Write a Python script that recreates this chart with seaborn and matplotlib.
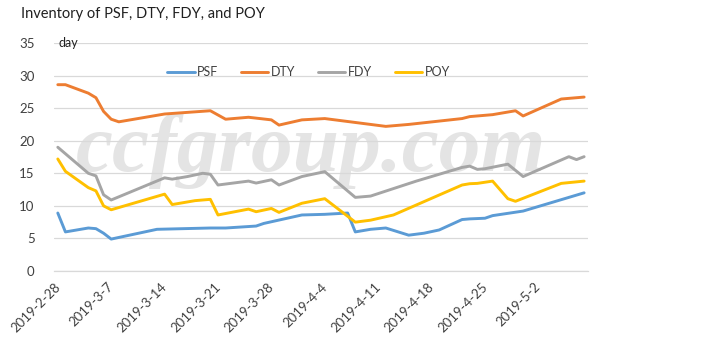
import pandas as pd
import numpy as np
import matplotlib
matplotlib.use("Agg")
import matplotlib.pyplot as plt
import seaborn as sns

# ---- data (days in inventory) ----
psf_dates = ["2019-02-28", "2019-03-01", "2019-03-04", "2019-03-05", "2019-03-06", "2019-03-07",
             "2019-03-13", "2019-03-20", "2019-03-22", "2019-03-26", "2019-03-27", "2019-04-01",
             "2019-04-04", "2019-04-07", "2019-04-08", "2019-04-10", "2019-04-12", "2019-04-15",
             "2019-04-17", "2019-04-19", "2019-04-22", "2019-04-23", "2019-04-25", "2019-04-26",
             "2019-04-30", "2019-05-08"]
psf_vals = [8.9, 6.0, 6.6, 6.5, 5.8, 4.9, 6.4, 6.6, 6.6, 6.9, 7.3, 8.6, 8.7, 8.9, 6.0, 6.4,
            6.6, 5.5, 5.8, 6.3, 7.9, 8.0, 8.1, 8.5, 9.2, 12.0]

dty_dates = ["2019-02-28", "2019-03-01", "2019-03-04", "2019-03-05", "2019-03-06", "2019-03-07",
             "2019-03-08", "2019-03-14", "2019-03-20", "2019-03-22", "2019-03-25", "2019-03-28",
             "2019-03-29", "2019-04-01", "2019-04-04", "2019-04-08", "2019-04-12", "2019-04-15",
             "2019-04-22", "2019-04-23", "2019-04-26", "2019-04-29", "2019-04-30", "2019-05-05",
             "2019-05-08"]
dty_vals = [28.6, 28.6, 27.3, 26.6, 24.5, 23.3, 22.9, 24.1, 24.6, 23.3, 23.6, 23.2, 22.4, 23.2,
            23.4, 22.8, 22.2, 22.5, 23.4, 23.7, 24.0, 24.6, 23.8, 26.4, 26.7]

fdy_dates = ["2019-02-28", "2019-03-04", "2019-03-05", "2019-03-06", "2019-03-07", "2019-03-14",
             "2019-03-15", "2019-03-17", "2019-03-19", "2019-03-20", "2019-03-21", "2019-03-25",
             "2019-03-26", "2019-03-28", "2019-03-29", "2019-04-01", "2019-04-04", "2019-04-08",
             "2019-04-10", "2019-04-16", "2019-04-22", "2019-04-23", "2019-04-24", "2019-04-25",
             "2019-04-28", "2019-04-30", "2019-05-06", "2019-05-07", "2019-05-08"]
fdy_vals = [19.0, 15.0, 14.6, 11.7, 10.9, 14.3, 14.1, 14.5, 15.0, 14.85, 13.2, 13.8, 13.5, 14.0,
            13.2, 14.5, 15.25, 11.3, 11.5, 13.8, 15.9, 16.1, 15.6, 15.7, 16.4, 14.5, 17.55,
            17.1, 17.55]

poy_dates = ["2019-02-28", "2019-03-01", "2019-03-04", "2019-03-05", "2019-03-06", "2019-03-07",
             "2019-03-14", "2019-03-15", "2019-03-18", "2019-03-20", "2019-03-21", "2019-03-25",
             "2019-03-26", "2019-03-28", "2019-03-29", "2019-04-01", "2019-04-04", "2019-04-08",
             "2019-04-10", "2019-04-13", "2019-04-22", "2019-04-23", "2019-04-24", "2019-04-26",
             "2019-04-28", "2019-04-29", "2019-05-05", "2019-05-08"]
poy_vals = [17.2, 15.3, 12.8, 12.3, 10.0, 9.4, 11.8, 10.2, 10.8, 11.0, 8.6, 9.5, 9.1, 9.6, 9.0,
            10.4, 11.1, 7.5, 7.8, 8.6, 13.2, 13.4, 13.45, 13.8, 11.1, 10.7, 13.45, 13.8]

series_names = ["PSF", "DTY", "FDY", "POY"]
series_colors = ["#5B9BD5", "#ED7D31", "#A5A5A5", "#FFC000"]
tick_dates = ["2019-02-28", "2019-03-07", "2019-03-14", "2019-03-21", "2019-03-28", "2019-04-04",
              "2019-04-11", "2019-04-18", "2019-04-25", "2019-05-02", "2019-05-09"]
tick_labels = ["2019-2-28", "2019-3-7", "2019-3-14", "2019-3-21", "2019-3-28", "2019-4-4",
               "2019-4-11", "2019-4-18", "2019-4-25", "2019-5-2", ""]
y_ticks = [0, 5, 10, 15, 20, 25, 30, 35]

# ---- build table ----
frames = []
for name, d, v in zip(series_names,
                      [psf_dates, dty_dates, fdy_dates, poy_dates],
                      [psf_vals, dty_vals, fdy_vals, poy_vals]):
    frames.append(pd.DataFrame({"date": pd.to_datetime(d) + pd.Timedelta(hours=12),
                                "value": v, "series": name}))
df = pd.concat(frames, ignore_index=True)

sns.set_style("white")
FONT = ["Lato", "DejaVu Sans"]
plt.rcParams["font.family"] = FONT

fig = plt.figure(figsize=(7.15, 3.49), dpi=100)
ax = fig.add_axes([0.0755, 0.2235, 0.7468, 0.6533])

# watermark
ax.text(0.481, 0.44, "ccfgroup.com", transform=ax.transAxes, ha="center", va="baseline",
        fontsize=60, family="Liberation Serif", style="italic", weight="bold",
        color="#e4e4e4", zorder=0)

sns.lineplot(data=df, x="date", y="value", hue="series", hue_order=series_names,
             palette=series_colors, linewidth=2.1, ax=ax, sort=True, estimator=None,
             legend=True, zorder=3)

ax.set_xlim(pd.Timestamp("2019-02-28"), pd.Timestamp("2019-05-09"))
ax.set_ylim(0, 35)
ax.set_yticks(y_ticks)
ax.set_yticklabels([str(t) for t in y_ticks], fontsize=9.5, color="#404040")
ax.set_xticks(pd.to_datetime(tick_dates))
ax.set_xticklabels(tick_labels, rotation=45, ha="right", rotation_mode="anchor",
                   fontsize=9.5, color="#404040")
ax.set_xlabel("")
ax.set_ylabel("")

ax.grid(axis="y", color="#d9d9d9", linewidth=0.9, zorder=1)
ax.set_axisbelow(True)
for s in ["top", "right", "left"]:
    ax.spines[s].set_visible(False)
ax.spines["bottom"].set_color("#d9d9d9")
ax.spines["bottom"].set_linewidth(0.9)
ax.tick_params(axis="x", direction="out", length=4, color="#d9d9d9", width=0.9, pad=3)
ax.tick_params(axis="y", length=0, pad=14)

handles, labels = ax.get_legend_handles_labels()
leg = ax.legend(handles, labels, loc="center", bbox_to_anchor=(0.477, 0.873), ncol=4,
                frameon=False, fontsize=9, handlelength=2.2, handletextpad=0.2,
                columnspacing=1.8)
for t in leg.get_texts():
    t.set_color("#404040")

fig.text(21 / 715, 1 - 14 / 349, "Inventory of PSF, DTY, FDY, and POY", ha="left", va="center",
         fontsize=10.5, color="#202020")
ax.text(0.008, 1.0, "day", transform=ax.transAxes, ha="left", va="center", fontsize=9,
        color="#202020")

fig.savefig("out.png", dpi=100)
